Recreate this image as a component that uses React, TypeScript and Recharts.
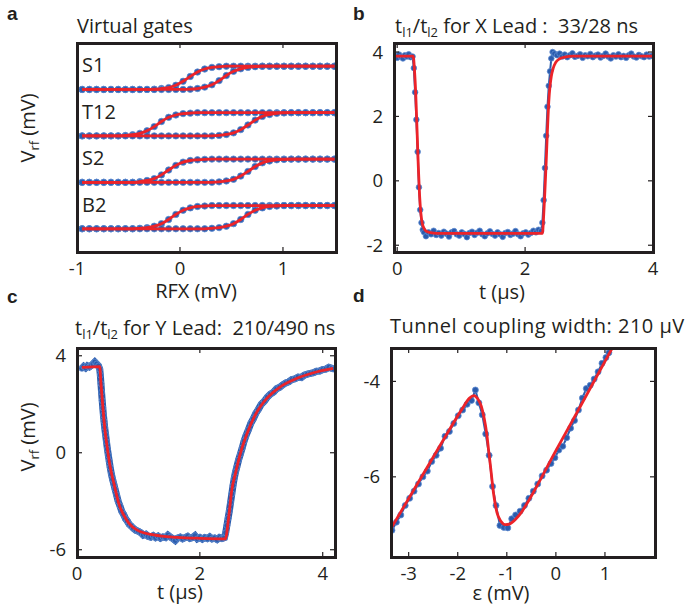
import { ComposedChart, Line, ReferenceLine, XAxis, YAxis } from "recharts"

// ---- panel a: virtual gate sweeps (offset traces, arbitrary units) ----
const aX = [-0.95, -0.88, -0.81, -0.74, -0.67, -0.6, -0.53, -0.46, -0.39, -0.32, -0.25, -0.18, -0.11, -0.04, 0.03, 0.1, 0.17, 0.24, 0.31, 0.38, 0.45, 0.52, 0.59, 0.66, 0.73, 0.8, 0.87, 0.94, 1.01, 1.08, 1.15, 1.22, 1.29, 1.36, 1.43, 1.5]
const aS1a = [7, 7, 7, 7, 7, 7, 7, 7, 7, 7, 7.01, 7.04, 7.08, 7.18, 7.35, 7.56, 7.75, 7.88, 7.95, 7.98, 8, 8, 8, 8, 8, 8, 8, 8, 8, 8, 8, 8, 8, 8, 8, 8]
const aS1b = [7, 7, 7, 7, 7, 7, 7, 7, 7, 7, 7, 7, 7, 7, 7, 7.01, 7.04, 7.1, 7.2, 7.38, 7.6, 7.78, 7.89, 7.95, 7.98, 8, 8, 8, 8, 8, 8, 8, 8, 8, 8, 8]
const aT12a = [5, 5, 5, 5, 5, 5, 5.02, 5.05, 5.11, 5.22, 5.4, 5.62, 5.8, 5.9, 5.96, 5.98, 6, 6, 6, 6, 6, 6, 6, 6, 6, 6, 6, 6, 6, 6, 6, 6, 6, 6, 6, 6]
const aT12b = [5, 5, 5, 5, 5, 5, 5, 5, 5, 5, 5, 5, 5, 5, 5, 5, 5, 5, 5, 5.02, 5.06, 5.13, 5.27, 5.47, 5.68, 5.84, 5.92, 5.97, 5.99, 6, 6, 6, 6, 6, 6, 6]
const aS2a = [3, 3, 3, 3, 3, 3, 3, 3, 3.03, 3.08, 3.16, 3.32, 3.53, 3.73, 3.87, 3.94, 3.97, 3.99, 4, 4, 4, 4, 4, 4, 4, 4, 4, 4, 4, 4, 4, 4, 4, 4, 4, 4]
const aS2b = [3, 3, 3, 3, 3, 3, 3, 3, 3, 3, 3, 3, 3, 3, 3, 3, 3, 3, 3, 3.02, 3.06, 3.13, 3.27, 3.47, 3.68, 3.84, 3.92, 3.97, 3.99, 4, 4, 4, 4, 4, 4, 4]
const aB2a = [1, 1, 1, 1, 1, 1, 1, 1, 1.02, 1.05, 1.11, 1.22, 1.4, 1.62, 1.8, 1.9, 1.96, 1.98, 2, 2, 2, 2, 2, 2, 2, 2, 2, 2, 2, 2, 2, 2, 2, 2, 2, 2]
const aB2b = [1, 1, 1, 1, 1, 1, 1, 1, 1, 1, 1, 1, 1, 1, 1, 1, 1, 1, 1.02, 1.05, 1.11, 1.22, 1.4, 1.62, 1.8, 1.9, 1.96, 1.98, 2, 2, 2, 2, 2, 2, 2, 2]
const aTraceNames = ["S1", "T12", "S2", "B2"]
const aXTicks = [-1, 0, 1]

// ---- panel b: X lead, [t (us), Vrf (mV)] ----
const bMeasured: [number, number][] = [
  [-0.06, 3.86], [-0.03, 3.9], [0, 3.82], [0.03, 3.92], [0.06, 3.85], [0.09, 3.8], [0.12, 3.9], [0.15, 3.86], [0.18, 3.93], [0.21, 3.84], [0.24, 3.86],
  [0.26, 3.5], [0.28, 2.75], [0.3, 1.9], [0.32, 0.9], [0.34, -0.2], [0.36, -0.9], [0.38, -1.3], [0.4, -1.52], [0.42, -1.6],
  [0.45, -1.72], [0.49, -1.6], [0.53, -1.66], [0.57, -1.55], [0.61, -1.68], [0.65, -1.62], [0.69, -1.7], [0.73, -1.58], [0.77, -1.64], [0.81, -1.73],
  [0.85, -1.6], [0.89, -1.56], [0.93, -1.66], [0.97, -1.7], [1.01, -1.6], [1.05, -1.65], [1.09, -1.75], [1.13, -1.62], [1.17, -1.58], [1.21, -1.68],
  [1.25, -1.61], [1.29, -1.55], [1.33, -1.66], [1.37, -1.72], [1.41, -1.63], [1.45, -1.57], [1.49, -1.65], [1.53, -1.7], [1.57, -1.6], [1.61, -1.66],
  [1.65, -1.74], [1.69, -1.62], [1.73, -1.59], [1.77, -1.68], [1.81, -1.64], [1.85, -1.56], [1.89, -1.66], [1.93, -1.72], [1.97, -1.63], [2.01, -1.6],
  [2.05, -1.67], [2.09, -1.62], [2.13, -1.55], [2.17, -1.6], [2.21, -1.52], [2.25, -1.56],
  [2.27, -1.3], [2.29, -0.6], [2.31, 0.4], [2.33, 1.4], [2.35, 2.3], [2.37, 2.95], [2.39, 3.4], [2.41, 3.8], [2.43, 4.0], [2.46, 3.95],
  [2.5, 3.9], [2.54, 3.95], [2.58, 3.86], [2.62, 3.92], [2.66, 3.84], [2.7, 3.9], [2.74, 3.96], [2.78, 3.85], [2.82, 3.88], [2.86, 3.93],
  [2.9, 3.82], [2.94, 3.9], [2.98, 3.87], [3.02, 3.94], [3.06, 3.84], [3.1, 3.89], [3.14, 3.92], [3.18, 3.83], [3.22, 3.88], [3.26, 3.95],
  [3.3, 3.86], [3.34, 3.8], [3.38, 3.9], [3.42, 3.86], [3.46, 3.93], [3.5, 3.84], [3.54, 3.88], [3.58, 3.82], [3.62, 3.9], [3.66, 3.95],
  [3.7, 3.86], [3.74, 3.83], [3.78, 3.91], [3.82, 3.87], [3.86, 3.84], [3.9, 3.92], [3.94, 3.86], [3.98, 3.88],
]
const bFit: [number, number][] = [
  [-0.06, 3.87], [0.25, 3.87], [0.27, 3.45], [0.29, 2.7], [0.31, 1.6], [0.33, 0.45], [0.35, -0.45], [0.37, -1.0], [0.39, -1.3], [0.42, -1.48],
  [0.46, -1.57], [0.52, -1.61], [0.62, -1.63], [2.27, -1.63], [2.29, -1.1], [2.31, -0.3], [2.33, 0.6], [2.35, 1.6], [2.37, 2.45], [2.39, 2.95],
  [2.41, 3.25], [2.44, 3.5], [2.48, 3.68], [2.54, 3.79], [2.62, 3.84], [2.75, 3.87], [4.0, 3.87],
]
const bXTicks = [0, 2, 4]
const bYTicks = [-2, 0, 2, 4]

// ---- panel c: Y lead, [t (us), Vrf (mV)] ----
const cMeasured: [number, number][] = [
  [0.08, 3.48], [0.11, 3.56], [0.14, 3.5], [0.17, 3.58], [0.2, 3.54], [0.23, 3.6], [0.26, 3.66], [0.29, 3.74], [0.32, 3.66], [0.35, 3.58], [0.37, 3.45],
  [0.38, 3.2], [0.39, 2.85], [0.4, 2.5], [0.41, 2.15], [0.42, 1.85], [0.43, 1.55], [0.44, 1.3], [0.45, 1.05], [0.465, 0.75], [0.48, 0.45],
  [0.495, 0.15], [0.51, -0.1], [0.525, -0.35], [0.54, -0.6], [0.56, -0.88], [0.58, -1.1], [0.6, -1.3], [0.62, -1.5], [0.645, -1.75], [0.67, -2.0],
  [0.7, -2.2], [0.73, -2.42], [0.76, -2.55], [0.79, -2.72], [0.82, -2.82], [0.85, -2.95], [0.88, -3.02], [0.92, -3.12], [0.96, -3.2], [1.0, -3.24],
  [1.04, -3.3], [1.08, -3.4], [1.12, -3.36], [1.16, -3.45], [1.2, -3.48], [1.24, -3.42], [1.28, -3.5], [1.32, -3.44], [1.36, -3.52], [1.4, -3.47],
  [1.44, -3.5], [1.48, -3.4], [1.52, -3.48], [1.56, -3.54], [1.6, -3.62], [1.64, -3.52], [1.68, -3.48], [1.72, -3.55], [1.76, -3.5], [1.8, -3.45],
  [1.84, -3.53], [1.88, -3.5], [1.92, -3.42], [1.96, -3.55], [2.0, -3.5], [2.04, -3.56], [2.08, -3.5], [2.12, -3.54], [2.16, -3.47], [2.2, -3.55],
  [2.24, -3.52], [2.28, -3.58], [2.32, -3.5], [2.36, -3.54], [2.4, -3.5], [2.42, -3.3], [2.44, -3.0], [2.46, -2.7], [2.48, -2.4], [2.5, -2.05],
  [2.52, -1.7], [2.54, -1.35], [2.56, -1.05], [2.58, -0.8], [2.6, -0.6], [2.63, -0.3], [2.66, -0.05], [2.69, 0.2], [2.72, 0.48], [2.75, 0.7],
  [2.79, 0.95], [2.83, 1.22], [2.87, 1.4], [2.91, 1.62], [2.95, 1.78], [3.0, 2.0], [3.05, 2.13], [3.1, 2.3], [3.15, 2.42], [3.2, 2.5],
  [3.25, 2.64], [3.3, 2.7], [3.35, 2.8], [3.4, 2.88], [3.45, 2.93], [3.5, 3.02], [3.55, 3.05], [3.6, 3.12], [3.65, 3.1], [3.7, 3.2],
  [3.75, 3.24], [3.8, 3.27], [3.85, 3.3], [3.9, 3.36], [3.95, 3.37], [4.0, 3.43], [4.05, 3.45], [4.1, 3.52], [4.15, 3.48], [4.18, 3.45],
]
const cFit: [number, number][] = [
  [0.08, 3.52], [0.37, 3.55], [0.39, 2.86], [0.42, 1.9], [0.45, 1.07], [0.49, 0.25], [0.54, -0.58], [0.6, -1.26], [0.68, -2.09], [0.81, -2.78],
  [0.98, -3.19], [1.25, -3.39], [1.63, -3.49], [2.01, -3.53], [2.415, -3.55], [2.47, -2.64], [2.52, -1.54], [2.58, -0.85], [2.66, -0.03],
  [2.77, 0.8], [2.9, 1.55], [3.09, 2.24], [3.31, 2.72], [3.58, 3.07], [3.85, 3.3], [4.17, 3.48],
]
const cXTicks = [0, 2, 4]
const cYTicks = [4, 0, -4]
const cYTickLabels = ["4", "0", "-6"]

// ---- panel d: tunnel coupling, [epsilon (mV), Vrf (mV)] ----
const dMeasured: [number, number][] = [
  [-3.34, -7.12], [-3.25, -6.95], [-3.16, -6.8], [-3.07, -6.6], [-2.98, -6.45], [-2.89, -6.3], [-2.8, -6.15], [-2.71, -6.0], [-2.62, -5.88],
  [-2.53, -5.68], [-2.44, -5.55], [-2.35, -5.4], [-2.26, -5.15], [-2.17, -5.05], [-2.08, -4.88], [-1.99, -4.72], [-1.9, -4.6], [-1.81, -4.48],
  [-1.72, -4.4], [-1.64, -4.18], [-1.57, -4.45], [-1.5, -4.7], [-1.43, -5.1], [-1.36, -5.55], [-1.29, -6.2], [-1.22, -6.6], [-1.14, -7.02],
  [-1.06, -7.06], [-0.98, -7.07], [-0.9, -6.88], [-0.82, -6.8], [-0.73, -6.72], [-0.64, -6.6], [-0.55, -6.45], [-0.46, -6.3], [-0.37, -6.15],
  [-0.28, -5.98], [-0.19, -5.86], [-0.1, -5.72], [-0.02, -5.6], [0.06, -5.44], [0.14, -5.36], [0.22, -5.18], [0.3, -4.98], [0.38, -4.82],
  [0.46, -4.6], [0.54, -4.35], [0.62, -4.15], [0.7, -4.08], [0.78, -3.95], [0.86, -3.8], [0.94, -3.62], [1.02, -3.5], [1.08, -3.4],
]
const dFit: [number, number][] = [
  [-3.36, -7.08], [-2.8, -6.11], [-2.3, -5.24], [-1.9, -4.56], [-1.76, -4.35], [-1.67, -4.3], [-1.59, -4.37], [-1.52, -4.52], [-1.46, -4.78],
  [-1.41, -5.09], [-1.37, -5.45], [-1.33, -5.8], [-1.27, -6.35], [-1.2, -6.75], [-1.12, -6.93], [-1.03, -7.0], [-0.95, -6.99], [-0.83, -6.9],
  [-0.7, -6.74], [-0.59, -6.56], [0, -5.45], [0.5, -4.52], [1.15, -3.3],
]
const dXTicks = [-3, -2, -1, 0, 1]
const dYTicks = [-6, -4]

const BLUE = "#2b5cad"
const BLUE_EDGE = "#5f8bd0"
const RED = "#ec2329"
const INK = "#231f20"
const FONT = "'Open Sans', sans-serif"

type Pt = { x: number; y: number }
const pts = (rows: [number, number][]): Pt[] => rows.map(([x, y]) => ({ x, y }))
const trace = (ys: number[]): Pt[] => aX.map((x, i) => ({ x, y: ys[i] }))

type Series = { data: Pt[]; width?: number; r?: number }

type PanelProps = {
  left: number
  top: number
  w: number
  h: number
  xDomain: [number, number]
  yDomain: [number, number]
  xTicks: number[]
  yTicks: number[]
  yFmt?: (v: number) => string
  measured: Series[]
  fits: Pt[][]
}

const YW = 50
const XH = 40
const PAD = 6
const TICK_LEN = 5

function axes(xDomain: [number, number], yDomain: [number, number], xTicks: number[], yTicks: number[], show: boolean, yFmt?: (v: number) => string) {
  const tick = show ? { fontSize: 18.5, fill: INK, fontFamily: FONT } : false
  return [
    <XAxis key="xb" xAxisId="b" dataKey="x" type="number" domain={xDomain} ticks={xTicks} interval={0} allowDataOverflow height={XH}
      axisLine={false} tickLine={false} tickSize={0} tickMargin={10} tick={tick} />,
    <YAxis key="yl" yAxisId="l" type="number" domain={yDomain} ticks={yTicks} interval={0} allowDataOverflow width={YW}
      axisLine={false} tickLine={false} tickSize={0} tickMargin={11} tick={yTicks.length ? tick : false} tickFormatter={yFmt} />,
  ]
}

// short inward tick marks on all four sides, in data units
function tickMarks(xDomain: [number, number], yDomain: [number, number], xTicks: number[], yTicks: number[], w: number, h: number) {
  const dy = ((yDomain[1] - yDomain[0]) * TICK_LEN) / h
  const dx = ((xDomain[1] - xDomain[0]) * TICK_LEN) / w
  const common = { xAxisId: "b", yAxisId: "l", stroke: INK, strokeWidth: 1.2, ifOverflow: "visible" as const }
  const out: any[] = []
  xTicks.filter((t) => t > xDomain[0] && t < xDomain[1]).forEach((t) => {
    out.push(<ReferenceLine key={"xb" + t} {...common} segment={[{ x: t, y: yDomain[0] }, { x: t, y: yDomain[0] + dy }]} />)
    out.push(<ReferenceLine key={"xt" + t} {...common} segment={[{ x: t, y: yDomain[1] }, { x: t, y: yDomain[1] - dy }]} />)
  })
  yTicks.filter((t) => t > yDomain[0] && t < yDomain[1]).forEach((t) => {
    out.push(<ReferenceLine key={"yl" + t} {...common} segment={[{ x: xDomain[0], y: t }, { x: xDomain[0] + dx, y: t }]} />)
    out.push(<ReferenceLine key={"yr" + t} {...common} segment={[{ x: xDomain[1], y: t }, { x: xDomain[1] - dx, y: t }]} />)
  })
  return out
}

function Panel({ left, top, w, h, xDomain, yDomain, xTicks, yTicks, yFmt, measured, fits }: PanelProps) {
  const size = { width: YW + w + PAD, height: PAD + h + XH }
  const margin = { top: PAD, right: PAD, left: 0, bottom: 0 }
  const layer = { position: "absolute" as const, left: 0, top: 0 }
  return (
    <div style={{ position: "absolute", left: left - YW, top: top - PAD, ...size }}>
      {/* measured points */}
      <div style={layer}>
        <ComposedChart {...size} margin={margin}>
          {axes(xDomain, yDomain, xTicks, yTicks, true, yFmt)}
          {measured.map((s, i) => (
            <Line key={i} xAxisId="b" yAxisId="l" data={s.data} dataKey="y" type="linear"
              stroke={s.width ? BLUE : "none"} strokeWidth={s.width || 0}
              dot={{ r: s.r ?? 3, fill: BLUE, stroke: BLUE_EDGE, strokeWidth: 0.8 }} activeDot={false} isAnimationActive={false} />
          ))}
        </ComposedChart>
      </div>
      {/* fitted curves and tick marks on top */}
      <div style={layer}>
        <ComposedChart {...size} margin={margin}>
          {axes(xDomain, yDomain, xTicks, yTicks, false)}
          {fits.map((f, i) => (
            <Line key={i} xAxisId="b" yAxisId="l" data={f} dataKey="y" type="monotone"
              stroke={RED} strokeWidth={2.8} dot={false} activeDot={false} isAnimationActive={false} />
          ))}
          {tickMarks(xDomain, yDomain, xTicks, yTicks, w, h)}
        </ComposedChart>
      </div>
      {/* axes box */}
      <div style={{ position: "absolute", left: YW - 1.5, top: PAD - 1.5, width: w + 3, height: h + 3, border: `3px solid ${INK}`, boxSizing: "border-box" }} />
    </div>
  )
}

const aTraces = [aS1a, aS1b, aT12a, aT12b, aS2a, aS2b, aB2a, aB2b]

function Sub({ text }: { text: string }) {
  return <tspan fontSize={13} dy={4}>{text}</tspan>
}

export default function App() {
  const letter = { fontFamily: "'Liberation Sans', Arial, sans-serif", fontWeight: 700, fontSize: 19 }
  return (
    <div style={{ position: "absolute", left: 0, top: 0, width: 685, height: 607, background: "#fff", fontFamily: FONT }}>
      <Panel left={77} top={43} w={259} h={209} xDomain={[-1, 1.515]} yDomain={[0, 9]} xTicks={aXTicks} yTicks={[]}
        measured={aTraces.map((t) => ({ data: trace(t), r: 3.2 }))} fits={aTraces.map((t) => trace(t))} />
      <Panel left={394} top={43} w={259} h={209} xDomain={[-0.05, 4]} yDomain={[-2.21, 4.28]} xTicks={bXTicks} yTicks={bYTicks}
        measured={[{ data: pts(bMeasured), width: 2, r: 2.8 }]} fits={[pts(bFit)]} />
      <Panel left={77} top={348} w={258} h={209} xDomain={[0, 4.2]} yDomain={[-4.3, 4.32]} xTicks={cXTicks} yTicks={cYTicks}
        yFmt={(v) => cYTickLabels[cYTicks.indexOf(v)] ?? String(v)}
        measured={[{ data: pts(cMeasured), width: 7, r: 3 }]} fits={[pts(cFit)]} />
      <Panel left={391} top={348} w={264} h={209} xDomain={[-3.36, 2.02]} yDomain={[-7.68, -3.3]} xTicks={dXTicks} yTicks={dYTicks}
        measured={[{ data: pts(dMeasured), width: 2, r: 3 }]} fits={[pts(dFit)]} />

      <svg width={685} height={607} style={{ position: "absolute", left: 0, top: 0, pointerEvents: "none" }}
        fontFamily={FONT} fill={INK} fontSize={20}>
        <text x={7} y={20} {...letter}>a</text>
        <text x={353} y={20} {...letter}>b</text>
        <text x={7} y={303} {...letter}>c</text>
        <text x={353} y={302} {...letter}>d</text>

        <text x={77} y={33}>Virtual gates</text>
        <text x={395} y={33} xmlSpace="preserve" style={{ whiteSpace: "pre" }}>t<Sub text="l1" /><tspan dy={-4}>/t</tspan><Sub text="l2" /><tspan dy={-4}> for X Lead :  33/28 ns</tspan></text>
        <text x={75} y={335} xmlSpace="preserve" style={{ whiteSpace: "pre" }}>t<Sub text="l1" /><tspan dy={-4}>/t</tspan><Sub text="l2" /><tspan dy={-4}> for Y Lead:  210/490 ns</tspan></text>
        <text x={390} y={333} letterSpacing={0.5}>Tunnel coupling width: 210 μV</text>

        {aTraceNames.map((n, i) => (
          <text key={n} x={82} y={72 + i * 46.5}>{n}</text>
        ))}

        <text transform="translate(35,128) rotate(-90)" textAnchor="middle">V<Sub text="rf" /><tspan dy={-4}> (mV)</tspan></text>
        <text transform="translate(35,437) rotate(-90)" textAnchor="middle">V<Sub text="rf" /><tspan dy={-4}> (mV)</tspan></text>

        <text x={196} y={298} textAnchor="middle">RFX (mV)</text>
        <text x={502} y={299} textAnchor="middle">t (μs)</text>
        <text x={180} y={599} textAnchor="middle">t (μs)</text>
        <text x={501} y={600} textAnchor="middle">ε (mV)</text>
      </svg>
    </div>
  )
}
